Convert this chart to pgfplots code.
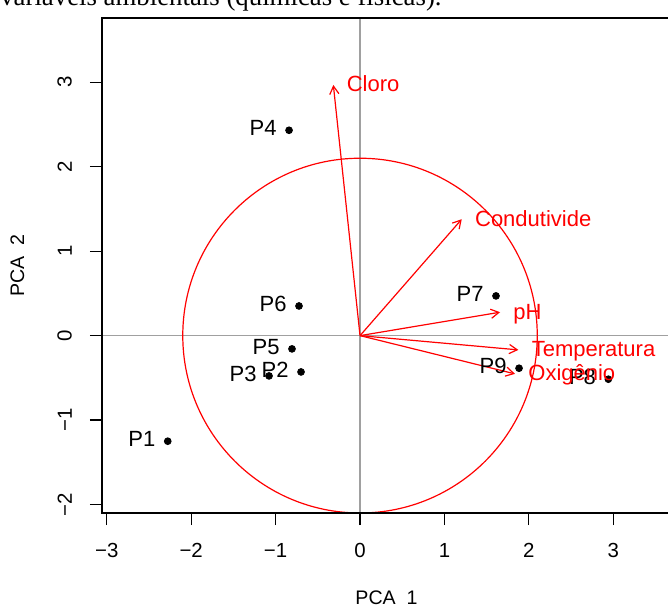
\documentclass[border=0pt]{standalone}
\usepackage{fontspec}
\setmainfont{Liberation Sans}
\newfontfamily\timesfont{Liberation Serif}
\usepackage{pgfplots}
\usepackage{pgfplotstable}
\pgfplotsset{compat=1.18}
\usetikzlibrary{arrows.meta}
\definecolor{rred}{RGB}{255,0,0}
\definecolor{refgray}{RGB}{160,160,160}

% scores of the sampling points
\pgfplotstableread{
x y name
-2.278 -1.250 P1
-0.699 -0.430 P2
-1.078 -0.477 P3
-0.841 2.431 P4
-0.806 -0.157 P5
-0.723 0.351 P6
1.611 0.470 P7
2.942 -0.516 P8
1.884 -0.386 P9
}\sitios

% loadings of the variables
\pgfplotstableread{
x0 y0 u v name
0 0 -0.316 2.967 Cloro
0 0 1.205 1.378 Condutivide
0 0 1.659 0.277 pH
0 0 1.876 -0.169 Temperatura
0 0 1.836 -0.453 Oxigênio
}\vetores

\begin{document}
\begin{tikzpicture}
\useasboundingbox (-51pt,-46.5pt) rectangle (283pt,256.5pt);
\begin{axis}[
  at={(0,0)}, anchor=south west,
  scale only axis, width=283pt, height=247.5pt,
  xmin=-3.057, xmax=3.649, ymin=-2.1, ymax=3.76,
  axis line style={draw=none},
  tick align=outside, major tick length=6pt,
  xtick pos=left, ytick pos=left,
  xtick={-3,...,3}, xticklabels={−3,−2,−1,0,1,2,3},
  ytick={-2,...,3}, yticklabels={−2,−1,0,1,2,3},
  tick style={black, line width=0.6pt},
  ticklabel style={font=\fontsize{10.2}{12}\selectfont},
  xticklabel shift=5.5pt, yticklabel shift=5.5pt,
  yticklabel style={rotate=90, anchor=south},
]
\draw[refgray, line width=0.6pt] (axis cs:-3.1,0) -- (axis cs:3.7,0);
\draw[refgray, line width=0.6pt] (axis cs:0,-2.2) -- (axis cs:0,3.8);
\draw[rred, line width=0.6pt] (axis cs:0,0) ellipse[x radius=2.1, y radius=2.1];

\addplot[only marks, mark=*, mark size=1.7pt, black,
  nodes near coords, point meta=explicit symbolic,
  nodes near coords style={font=\fontsize{11}{13}\selectfont, text=black,
    anchor=base east, inner sep=0pt, xshift=-6pt, yshift=-2.7pt}]
  table[x=x, y=y, meta=name] {\sitios};

\addplot[rred, line width=0.6pt, -{Straight Barb[length=4pt, width=4.6pt]},
  quiver={u=\thisrow{u}, v=\thisrow{v}}]
  table[x=x0, y=y0] {\vetores};

\addplot[draw=none, nodes near coords, point meta=explicit symbolic,
  nodes near coords style={font=\fontsize{11}{13}\selectfont, text=rred,
    anchor=base west, inner sep=0pt, xshift=6.5pt, yshift=-3.5pt}]
  table[x=u, y=v, meta=name] {\vetores};
\end{axis}
\draw[line width=0.8pt] (283pt,0) -- (0,0) -- (0,247.5pt) -- (283pt,247.5pt);
\node[font=\fontsize{9.8}{11}\selectfont] at (142.25pt,-42.5pt) {PCA\ \ 1};
\node[font=\fontsize{9.8}{11}\selectfont, rotate=90] at (-42.25pt,123.75pt) {PCA\ \ 2};
\node[font=\timesfont\fontsize{13.4}{16}\selectfont, anchor=base east, inner sep=0pt]
  at (170pt,253.5pt) {variáveis ambientais (químicas e físicas).};
\end{tikzpicture}
\end{document}
